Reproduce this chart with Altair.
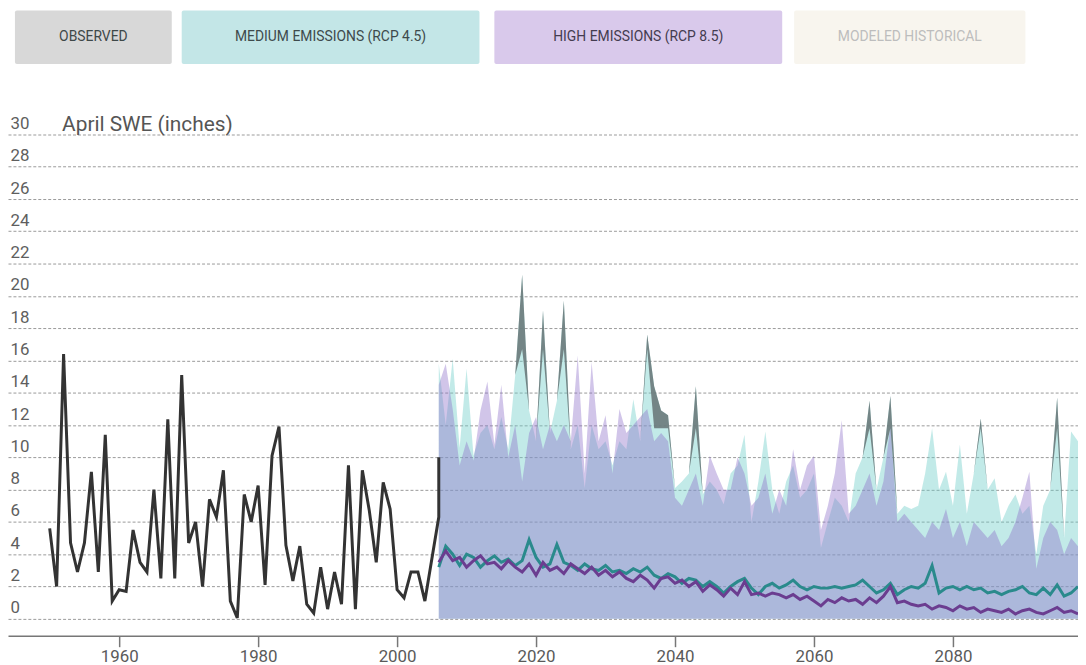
import altair as alt
import pandas as pd

# ---------------- data ----------------
obs_years = list(range(1950, 2007)) + [2006]
obs_swe = [
    5.6, 2.0, 16.4, 4.7, 2.9, 4.7, 9.1, 2.9, 11.4, 1.1,
    1.8, 1.7, 5.5, 3.5, 2.9, 8.0, 2.5, 12.35, 2.5, 15.1,
    4.7, 6.0, 2.0, 7.4, 6.3, 9.2, 1.1, 0.05, 7.7, 6.0,
    8.25, 2.1, 10.1, 11.9, 4.55, 2.35, 4.5, 0.9, 0.35, 3.2,
    0.6, 2.9, 0.9, 9.5, 0.6, 9.2, 6.7, 3.5, 8.45, 6.8,
    1.8, 1.3, 2.9, 2.9, 1.1, 3.7, 6.3, 10.0,
]

proj_years = list(range(2006, 2099))
rcp45_max = [
    15.8, 12.0, 16.1, 10.6, 15.5, 10.1, 11.5, 12.0, 10.5, 12.5,
    10.5, 15.1, 21.3, 12.9, 11.0, 19.1, 11.5, 13.5, 19.7, 10.5,
    12.0, 8.1, 12.0, 10.5, 11.0, 9.5, 11.0, 10.5, 13.6, 11.0,
    17.6, 14.4, 12.9, 12.6, 8.1, 8.5, 9.0, 14.4, 7.7, 8.5,
    8.0, 7.1, 9.0, 9.5, 11.4, 6.0, 8.5, 11.6, 8.0, 6.5,
    8.5, 9.5, 7.5, 8.0, 9.0, 4.4, 6.0, 7.5, 7.0, 6.0,
    9.0, 10.0, 13.5, 8.0, 10.0, 13.8, 6.5, 7.0, 6.8, 7.0,
    9.0, 11.8, 8.0, 9.1, 7.0, 10.8, 6.5, 9.0, 12.4, 8.0,
    8.7, 6.0, 7.0, 7.7, 6.5, 7.0, 4.0, 7.0, 8.0, 13.7,
    5.0, 11.6, 11.0,
]
rcp85_max = [
    14.5, 15.8, 13.0, 9.5, 11.0, 9.8, 12.9, 14.7, 10.8, 14.5,
    10.0, 12.0, 8.5, 11.5, 12.5, 10.5, 12.0, 11.0, 12.0, 11.0,
    16.3, 9.0, 15.9, 11.0, 12.6, 9.0, 13.0, 11.5, 12.0, 12.5,
    13.0, 11.0, 11.5, 11.0, 7.5, 7.0, 8.0, 9.0, 7.0, 10.1,
    9.0, 8.0, 8.0, 10.0, 9.0, 7.0, 7.5, 9.0, 6.5, 8.0,
    7.0, 10.5, 8.0, 9.5, 10.1, 5.5, 7.0, 9.0, 12.3, 6.5,
    7.0, 8.0, 9.0, 7.0, 8.5, 12.0, 6.0, 6.5, 6.0, 5.5,
    5.0, 6.0, 5.5, 6.8, 5.0, 6.0, 4.5, 6.0, 5.5, 5.0,
    5.5, 4.5, 5.0, 6.0, 7.5, 9.1, 3.1, 5.0, 6.0, 5.5,
    4.0, 5.0, 4.5,
]
rcp45_median = [
    3.2, 4.5, 4.0, 3.3, 4.0, 3.8, 3.2, 3.6, 3.9, 3.5,
    3.7, 3.3, 3.6, 4.9, 3.8, 3.2, 3.4, 4.6, 3.5, 3.3,
    3.0, 3.4, 3.1, 3.0, 3.3, 2.9, 3.0, 2.8, 3.1, 2.9,
    3.2, 2.7, 2.5, 2.8, 2.6, 2.2, 2.5, 2.4, 2.0, 2.3,
    2.0, 1.6, 2.0, 2.3, 2.5, 1.9, 1.5, 2.0, 2.2, 1.9,
    2.1, 2.4, 2.0, 1.8, 2.0, 1.9, 1.9, 2.0, 1.9, 2.0,
    2.1, 2.4, 2.0, 1.6, 1.8, 2.2, 1.5, 1.8, 2.0, 1.9,
    2.2, 3.3, 1.6, 1.9, 2.0, 1.8, 2.0, 1.8, 1.9, 1.6,
    1.7, 1.5, 1.7, 1.8, 2.0, 1.6, 1.5, 1.9, 1.5, 2.1,
    1.4, 1.6, 2.0,
]
rcp85_median = [
    3.5, 4.2, 3.6, 3.8, 3.2, 3.6, 3.9, 3.4, 3.5, 3.1,
    3.6, 3.2, 2.9, 3.4, 2.7, 3.5, 3.0, 3.2, 2.8, 3.4,
    3.1, 2.8, 3.2, 2.7, 3.0, 2.6, 2.9, 2.5, 2.3, 2.7,
    2.4, 1.9, 2.5, 2.6, 2.2, 2.4, 2.0, 2.3, 1.7, 2.1,
    1.8, 1.4, 1.9, 1.5, 2.3, 1.5, 1.6, 1.4, 1.6, 1.5,
    1.3, 1.5, 1.2, 1.4, 1.1, 0.8, 1.2, 1.0, 1.3, 1.1,
    1.2, 0.9, 1.3, 1.0, 1.4, 2.0, 1.0, 1.1, 0.9, 0.8,
    0.9, 0.6, 0.8, 0.7, 0.5, 0.8, 0.6, 0.7, 0.4, 0.6,
    0.5, 0.4, 0.6, 0.3, 0.5, 0.6, 0.4, 0.3, 0.5, 0.7,
    0.4, 0.5, 0.3,
]

x_ticks = [1960, 1980, 2000, 2020, 2040, 2060, 2080]
y_ticks = list(range(0, 31, 2))

legend_labels = ["OBSERVED", "MEDIUM EMISSIONS (RCP 4.5)", "HIGH EMISSIONS (RCP 8.5)", "MODELED HISTORICAL"]
legend_fills = ["#d8d8d8", "#c3e6e7", "#d9c9eb", "#f8f5ee"]
legend_text_colors = ["#3e4848", "#3e4a4c", "#443c50", "#bdbdbd"]
legend_boxes = [(7, 165), (175, 475), (490, 780), (792, 1025)]  # plot-area pixels

# ---------------- tables ----------------
obs = pd.DataFrame({"year": obs_years, "swe": obs_swe, "idx": list(range(len(obs_years)))})
proj = pd.DataFrame({
    "year": proj_years,
    "u45": rcp45_max,
    "u85": rcp85_max,
    "m45": rcp45_median,
    "m85": rcp85_median,
})

x_scale = alt.Scale(domain=[1944, 2098], nice=False, zero=False)
y_scale = alt.Scale(domain=[-1.05, 32.02], nice=False, zero=False)

x_axis = alt.Axis(
    values=x_ticks, format="d", grid=False, title=None,
    domainColor="#777777", domainWidth=1.5, tickColor="#777777", tickWidth=1.5, tickSize=11,
    labelFontSize=17, labelColor="#5a5a5a", labelPadding=2,
)
y_axis = alt.Axis(
    values=y_ticks, grid=True, gridDash=[3, 2], gridColor="#9a9a9a", gridWidth=1,
    domain=False, ticks=False, labelAlign="left", labelPadding=-2, labelBaseline="middle",
    labelOffset=-11, labelFontSize=17, labelColor="#5e5e5e",
    title="April SWE (inches)", titleAngle=0, titleAlign="left", titleBaseline="middle",
    titleX=54, titleY=23, titleFontSize=21, titleFontWeight="normal", titleColor="#555555",
)

def X(field="year"):
    return alt.X(f"{field}:Q", scale=x_scale, axis=x_axis)

def Y(field):
    return alt.Y(f"{field}:Q", scale=y_scale, axis=y_axis)

base = alt.Chart(proj)

area45 = base.mark_area(color="#6ecdc8", opacity=0.42).encode(
    x=X(), y=Y("u45"), y2=alt.datum(0)
)
area85 = base.mark_area(color="#8c6ec8", opacity=0.40).encode(
    x=X(), y=Y("u85"), y2=alt.datum(0)
)
spikes = base.transform_calculate(
    clip="datum.year <= 2036 ? 16.7 : 11.8"
).transform_calculate(
    lo="min(datum.u45, datum.clip)"
).mark_area(color="#6c7a7b", opacity=0.9).encode(
    x=X(), y=Y("u45"), y2="lo:Q"
)
line45 = base.mark_line(color="#2a8a8c", strokeWidth=3).encode(x=X(), y=Y("m45"))
line85 = base.mark_line(color="#6b3d90", strokeWidth=3).encode(x=X(), y=Y("m85"))
obs_line = alt.Chart(obs).mark_line(color="#333333", strokeWidth=3).encode(
    x=X(), y=Y("swe"), order=alt.Order("idx:Q")
)

layers = [area45, area85, spikes, line45, line85, obs_line]

for label, fill, tcol, (x0, x1) in zip(legend_labels, legend_fills, legend_text_colors, legend_boxes):
    one = pd.DataFrame({"label": [label]})
    layers.append(
        alt.Chart(one).mark_rect(color=fill, cornerRadius=2).encode(
            x=alt.value(x0), x2=alt.value(x1), y=alt.value(-92), y2=alt.value(-38)
        )
    )
    layers.append(
        alt.Chart(one).mark_text(fontSize=14, color=tcol, align="center", baseline="middle").encode(
            x=alt.value((x0 + x1) / 2), y=alt.value(-65), text="label:N"
        )
    )

chart = alt.layer(*layers).properties(
    width=1078,
    height=538,
    autosize=alt.AutoSizeParams(type="none"),
    padding={"left": 0, "top": 92, "right": 0, "bottom": 27},
).configure(font="Roboto").configure_view(stroke=None)

chart.save("out.html", embed_options={"renderer": "svg", "actions": False})
